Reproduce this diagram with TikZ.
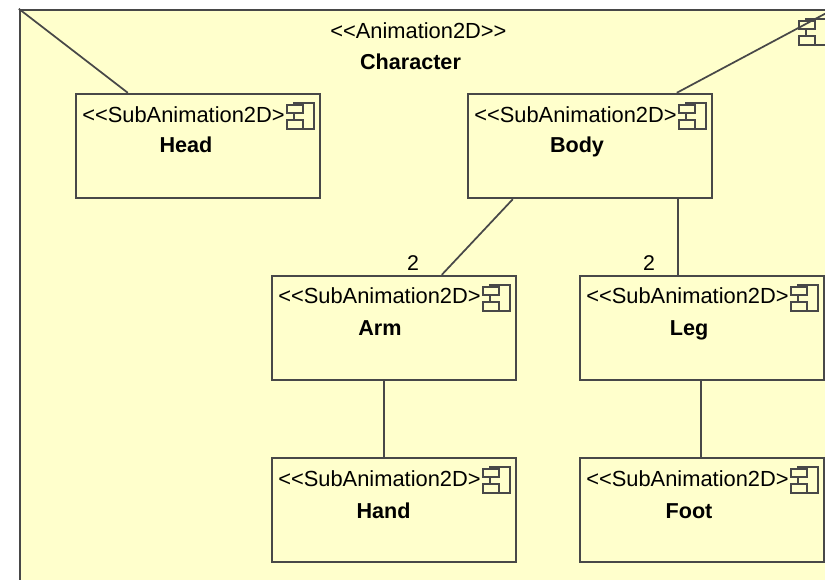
\documentclass[tikz,border=0pt]{standalone}
\usepackage{fontspec}
\setmainfont{Liberation Sans}
\usetikzlibrary{calc}
\definecolor{umlfill}{HTML}{FFFFCC}
\definecolor{umlline}{HTML}{484848}
\tikzset{
  x=0.75pt,y=-0.75pt,
  framebox/.style={draw=umlline,fill=umlfill,line width=1.6pt,anchor=north west,minimum width=900pt,minimum height=675pt,inner sep=0pt},
  compbox/.style={draw=umlline,fill=umlfill,line width=1.5pt,anchor=north west,minimum width=183.5pt,minimum height=78.3pt,inner sep=0pt},
  stereo/.style={font=\fontsize{16.4pt}{18pt}\selectfont,text=black,inner sep=0pt,anchor=base west},
  title/.style={font=\fontsize{16.2pt}{18pt}\selectfont\bfseries,text=black,inner sep=0pt,anchor=base},
  mult/.style={font=\fontsize{16pt}{18pt}\selectfont,text=black,inner sep=0pt},
  link/.style={draw=umlline,line width=1.3pt},
  compicon/.pic={
    \draw[umlline,line width=1.1pt] (7,0) rectangle (27,26);
    \draw[umlline,line width=1.1pt,fill=umlfill] (0,2) rectangle (16,10);
    \draw[umlline,line width=1.1pt,fill=umlfill] (0,17) rectangle (16,26);
  }
}
\begin{document}
\begin{tikzpicture}
\useasboundingbox (0,0) rectangle (825,580);
\clip (0,0) rectangle (825,580);
\fill[white] (0,0) rectangle (825,580);
\begin{scope}[shift={(-0.2,-0.2)}]
\node[framebox] (frame) at (19,9) {};
\coordinate (exit) at (827,13);
\node[compbox] (head) at (75,93) {};
\node[compbox] (body) at (467,93) {};
\node[compbox] (arm) at (271,275) {};
\node[compbox] (leg) at (579,275) {};
\node[compbox] (hand) at (271,457) {};
\node[compbox] (foot) at (579,457) {};
\end{scope}

\pic at (799,19) {compicon};
\pic at (287,103) {compicon};
\pic at (679,103) {compicon};
\pic at (483,285) {compicon};
\pic at (791,285) {compicon};
\pic at (483,467) {compicon};
\pic at (791,467) {compicon};

\node[stereo] (frameS) at (330,39) {<{}<Animation2D>{}>};
\node[title] (frameT) at (410.5,69.5) {Character};
\node[stereo] (headS) at (82,123) {<{}<SubAnimation2D>};
\node[title] (headT) at (186,152.5) {Head};
\node[stereo] (bodyS) at (474,123) {<{}<SubAnimation2D>};
\node[title] (bodyT) at (577,152.5) {Body};
\node[stereo] (armS) at (278,304) {<{}<SubAnimation2D>};
\node[title] (armT) at (380,335.5) {Arm};
\node[stereo] (legS) at (586,304) {<{}<SubAnimation2D>};
\node[title] (legT) at (689,335.5) {Leg};
\node[stereo] (handS) at (278,487) {<{}<SubAnimation2D>};
\node[title] (handT) at (383.5,519) {Hand};
\node[stereo] (footS) at (586,487) {<{}<SubAnimation2D>};
\node[title] (footT) at (689,519) {Foot};

\node[mult] (m1) at (413,263) {2};
\node[mult] (m2) at (649,263) {2};

\draw[link] (frame.north west) -- ($(head.north west)+(53,0)$);
\draw[link] (exit) -- ($(body.north west)+(210,0)$);
\draw[link] ($(body.south west)+(46,0)$) -- ($(arm.north west)+(171,0)$);
\draw[link] ($(body.south west)+(211,0)$) -- ($(leg.north west)+(99,0)$);
\draw[link] ($(arm.south west)+(113,0)$) -- ($(hand.north west)+(113,0)$);
\draw[link] ($(leg.south west)+(122,0)$) -- ($(foot.north west)+(122,0)$);
\end{tikzpicture}
\end{document}
